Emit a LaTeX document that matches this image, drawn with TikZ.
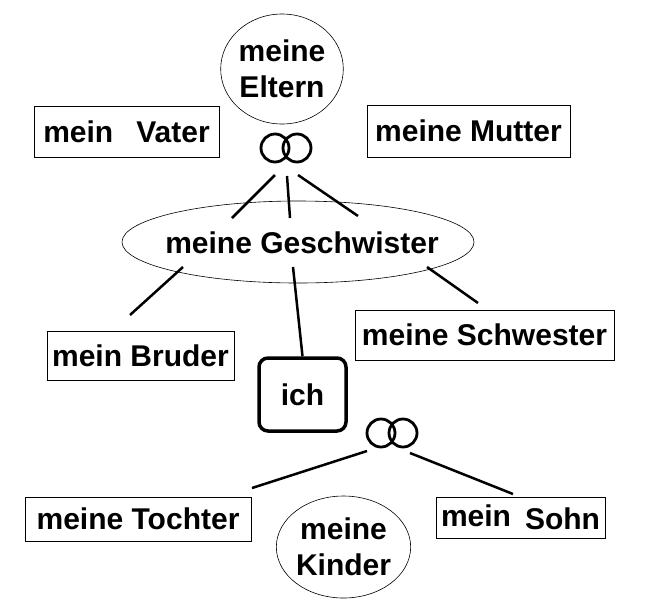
\documentclass[tikz,border=0pt]{standalone}
\usepackage{fontspec}
\setmainfont{Liberation Sans}
\usetikzlibrary{shapes.geometric}

\tikzset{
  famtext/.style={font=\bfseries\fontsize{30}{36}\selectfont},
  namebox/.style={draw, line width=0.8pt, inner sep=0pt},
  groupoval/.style={draw, ellipse, line width=0.6pt, inner sep=0pt, align=center},
  mebox/.style={draw, rounded corners=9pt, line width=3.5pt, inner sep=0pt,
    minimum width=87pt, minimum height=73pt},
  ring/.style={draw, circle, line width=2.8pt, minimum size=28pt, inner sep=0pt},
  link/.style={line width=2.5pt},
}

\begin{document}
\begin{tikzpicture}[x=1pt, y=-1pt, famtext]
      \useasboundingbox (0,0) rectangle (647,614);

      % Parents
      \node[groupoval, minimum width=116pt, minimum height=110pt] (eltern) at (282,69) {meine\\Eltern};
      \node[namebox, minimum width=185pt, minimum height=51pt] (vater) at (126.5,131.5) {mein\hspace{23pt}Vater};
      \node[namebox, minimum width=203pt, minimum height=52pt] (mutter) at (468.5,131) {meine Mutter};
      \node[ring] (ringA) at (275,148) {};
      \node[ring] (ringB) at (297,148) {};

      % Siblings
      \coordinate (geschwMid) at (298,242);
      \draw[line width=0.6pt] (geschwMid) ellipse [x radius=176pt, y radius=41pt];
      \node[inner sep=0pt] (geschw) at (302,243) {meine Geschwister};
      \node[namebox, minimum width=187pt, minimum height=49pt] (bruder) at (140.5,355.5) {mein Bruder};
      \node[namebox, minimum width=259pt, minimum height=50pt] (schwester) at (484.5,335) {meine Schwester};
      \node[mebox] (ich) at (302.5,394.5) {ich};

      % Children
      \node[ring] (ringC) at (381,433) {};
      \node[ring] (ringD) at (403,433) {};
      \node[namebox, minimum width=226pt, minimum height=44pt] (tochter) at (138,519) {meine Tochter};
      \node[groupoval, minimum width=129pt, minimum height=102pt] (kinder) at (343.5,547) {meine\\Kinder};
      \node[namebox, minimum width=169pt, minimum height=41pt] (sohn) at (520.5,517.5) {\raisebox{3pt}{mein}\hspace{14pt}Sohn};

      % line ends
      \coordinate (pA) at (275,175);
      \coordinate (pB) at (287,176);
      \coordinate (pC) at (298,175);
      \coordinate (gA) at (232,218);
      \coordinate (gB) at (290,218);
      \coordinate (gC) at (358,216);
      \coordinate (gD) at (183,267);
      \coordinate (gE) at (293,267);
      \coordinate (gF) at (427,267);
      \coordinate (bA) at (130,315);
      \coordinate (sA) at (478,303);
      \coordinate (kA) at (367,451);
      \coordinate (kB) at (410,453);
      \coordinate (tA) at (252,488);
      \coordinate (oA) at (513,494);

      \draw[link] (pA) -- (gA);
      \draw[link] (pB) -- (gB);
      \draw[link] (pC) -- (gC);
      \draw[link] (gD) -- (bA);
      \draw[link] (gE) -- (ich.north);
      \draw[link] (gF) -- (sA);
      \draw[link] (kA) -- (tA);
      \draw[link] (kB) -- (oA);
\end{tikzpicture}
\end{document}
